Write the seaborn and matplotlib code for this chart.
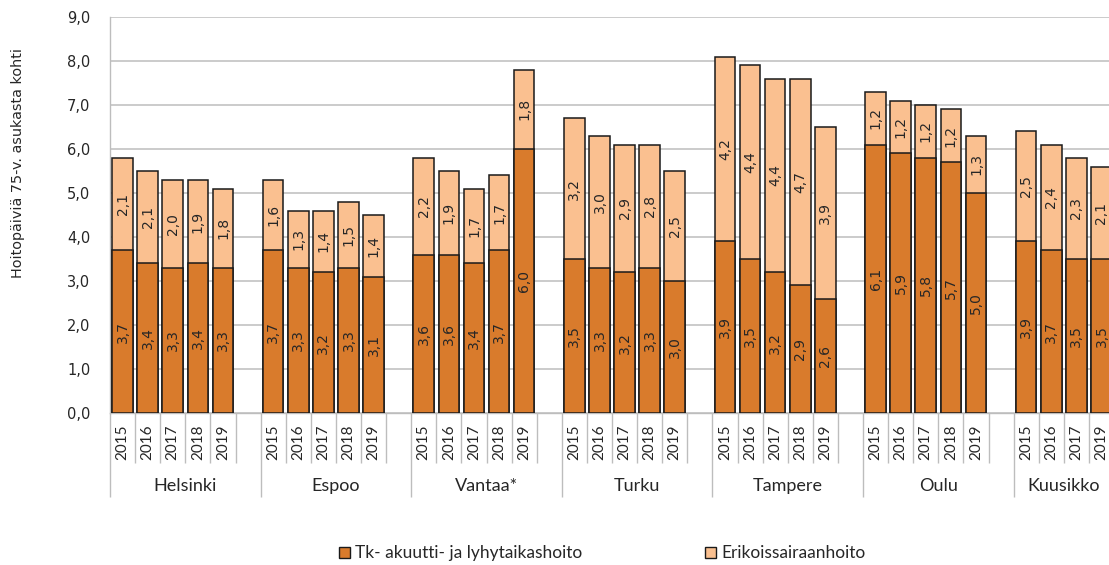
import numpy as np
import pandas as pd
import matplotlib
matplotlib.use("Agg")
import matplotlib.pyplot as plt
from matplotlib.patches import Patch
import seaborn as sns

# Data
cities = ["Helsinki", "Espoo", "Vantaa*", "Turku", "Tampere", "Oulu", "Kuusikko"]
years_all = ["2015", "2016", "2017", "2018", "2019"]
years_kuusikko = ["2015", "2016", "2017", "2019"]
city_years = [years_all] * 6 + [years_kuusikko]

tk_values = [
    [3.7, 3.4, 3.3, 3.4, 3.3],
    [3.7, 3.3, 3.2, 3.3, 3.1],
    [3.6, 3.6, 3.4, 3.7, 6.0],
    [3.5, 3.3, 3.2, 3.3, 3.0],
    [3.9, 3.5, 3.2, 2.9, 2.6],
    [6.1, 5.9, 5.8, 5.7, 5.0],
    [3.9, 3.7, 3.5, 3.5],
]
erik_values = [
    [2.1, 2.1, 2.0, 1.9, 1.8],
    [1.6, 1.3, 1.4, 1.5, 1.4],
    [2.2, 1.9, 1.7, 1.7, 1.8],
    [3.2, 3.0, 2.9, 2.8, 2.5],
    [4.2, 4.4, 4.4, 4.7, 3.9],
    [1.2, 1.2, 1.2, 1.2, 1.3],
    [2.5, 2.4, 2.3, 2.1],
]
y_ticks = [0, 1, 2, 3, 4, 5, 6, 7, 8, 9]
series_names = ["Tk- akuutti- ja lyhytaikashoito", "Erikoissairaanhoito"]
y_title = "Hoitopäiviä 75-v. asukasta kohti"

DARK = "#D97B2C"
LIGHT = "#FAC090"
EDGE = "#1A1A1A"
GRID = "#BDBDBD"
TEXT = "#262626"

def fi(v):
    return f"{v:.1f}".replace(".", ",")

# one slot per year, one empty slot between cities
rows = []
for ci, city in enumerate(cities):
    for yi, yr in enumerate(city_years[ci]):
        rows.append({"city": city, "year": yr, "pos": ci * 6 + yi,
                     "tk": tk_values[ci][yi], "erik": erik_values[ci][yi]})
df = pd.DataFrame(rows)
df["total"] = df["tk"] + df["erik"]

sns.set_style("white")
plt.rcParams["font.family"] = ["DejaVu Sans"]
cat_font = "Lato"

fig = plt.figure(figsize=(11.09, 5.65), dpi=100)
ax = fig.add_axes([110 / 1109, 152 / 565, 1004 / 1109, 396 / 565])

bar_kw = dict(native_scale=True, width=0.82, saturation=1, edgecolor=EDGE,
              linewidth=1.1, errorbar=None, ax=ax, zorder=3)
sns.barplot(data=df, x="pos", y="total", color=LIGHT, **bar_kw)
sns.barplot(data=df, x="pos", y="tk", color=DARK, **bar_kw)

# value labels
ax.bar_label(ax.containers[1], labels=[fi(v) for v in df["tk"]], label_type="center",
             rotation=90, fontsize=10, color=TEXT, zorder=4)
for p_tot, p_tk, v in zip(ax.containers[0], ax.containers[1], df["erik"]):
    x = p_tk.get_x() + p_tk.get_width() / 2
    y = (p_tk.get_height() + p_tot.get_height()) / 2
    ax.text(x, y, fi(v), rotation=90, ha="center", va="center", fontsize=10,
            color=TEXT, zorder=4)

# y axis
ax.set_ylim(0, 9)
ax.set_yticks(y_ticks)
ax.set_yticklabels([fi(v) for v in y_ticks], fontsize=10.5, color=TEXT)
ax.tick_params(axis="y", length=5, width=1, color=GRID, pad=9)
ax.yaxis.grid(True, color=GRID, linewidth=1.1)
ax.set_axisbelow(True)
ax.set_ylabel("")

# x axis: years, separators, city names
ax.set_xlim(-0.5, 39.5)
ax.set_xticks(df["pos"])
ax.set_xticklabels(df["year"], rotation=90, fontsize=11, family=cat_font, color=TEXT)
ax.tick_params(axis="x", length=0, pad=8)
ax.set_xlabel("")

xt = ax.get_xaxis_transform()
ax.vlines(df["pos"] + 0.5, -0.125, 0, transform=xt, colors=GRID, lw=1, clip_on=False)
group_starts = [ci * 6 - 0.5 for ci in range(len(cities))]
ax.vlines(group_starts, -0.212, 0, transform=xt, colors=GRID, lw=1, clip_on=False)
for ci, city in enumerate(cities):
    span = 6 if ci < len(cities) - 1 else len(city_years[ci])
    ax.text(ci * 6 - 0.5 + span / 2, -0.185, city, transform=xt, ha="center",
            va="center", fontsize=13, family=cat_font, color=TEXT)

for s in ["top", "right"]:
    ax.spines[s].set_visible(False)
for s in ["left", "bottom"]:
    ax.spines[s].set_color(GRID)
    ax.spines[s].set_linewidth(1)

fig.text(18 / 1109, 1 - 163 / 565, y_title, rotation=90, ha="center", va="center",
         fontsize=10.4, color=TEXT)

handles = [Patch(facecolor=DARK, edgecolor=EDGE, linewidth=1),
           Patch(facecolor=LIGHT, edgecolor=EDGE, linewidth=1)]
fig.legend(handles, series_names, loc="center", bbox_to_anchor=(0.543, 0.021), ncol=2,
           frameon=False, handlelength=0.6, handleheight=0.6, handletextpad=0.3,
           columnspacing=7.1, prop={"family": cat_font, "size": 12.5})

fig.savefig("out.png", dpi=100)
